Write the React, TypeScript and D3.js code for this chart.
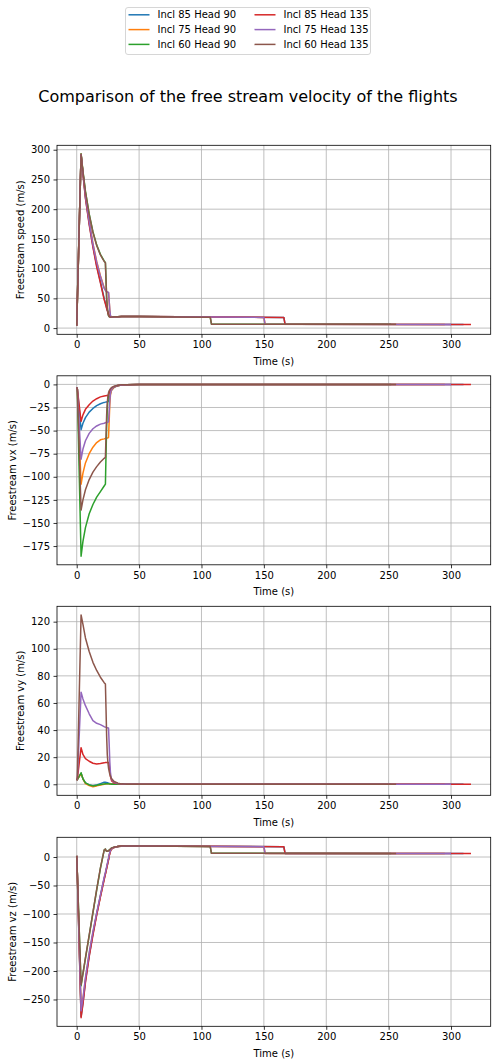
import React, { useEffect, useRef } from 'react';
import * as d3 from 'd3';

const seriesNames = ['Incl 85 Head 90', 'Incl 75 Head 90', 'Incl 60 Head 90', 'Incl 85 Head 135', 'Incl 75 Head 135', 'Incl 60 Head 135'];
const seriesColors = ['#1f77b4', '#ff7f0e', '#2ca02c', '#d62728', '#9467bd', '#8c564b'];

// launch / ballistic phase, shared time knots (s)
const timeEarly = [0, 0.5, 3.5, 5, 7, 10, 13, 16, 19, 22, 23, 23.5, 24, 24.5, 25, 25.5, 26, 26.5, 27, 27.5, 28, 30, 33, 36, 40, 50];
// descent phase: step down + end of each flight (s)
const timeLate85h90 = [165, 166, 167, 310];
const timeLate75h90 = [149, 150, 151, 295];
const timeLate60h90 = [106, 107, 108, 252];
const timeLate85h135 = [165, 166, 167, 316];
const timeLate75h135 = [149, 150, 151, 300];
const timeLate60h135 = [106, 107, 108, 256];

// Freestream speed (m/s)
const speed85h90 = [4, 45, 293, 260, 220, 176, 138, 105, 78, 50, 42, 38, 34, 30, 27, 24, 21, 19.5, 18.8, 18.6, 18.6, 18.9, 19.2, 19.4, 19.4, 19.3, 18, 18, 6.3, 6.2];
const speed75h90 = [4, 45, 293, 262, 224, 180, 142, 112, 88, 68, 64, 62.5, 61.5, 61, 60, 59.5, 45, 30, 21, 19, 18.6, 18.9, 19.2, 19.4, 19.4, 19.3, 18, 18, 6.3, 6.2];
const speed60h90 = [4, 45, 293, 264, 230, 192, 162, 140, 124, 113, 110, 80, 50, 35, 26, 21, 19.5, 19, 18.8, 18.7, 18.8, 19, 19.2, 19.4, 19.4, 19.3, 18.3, 18.3, 6.5, 6.3];
const speed85h135 = [4, 45, 292, 259, 218, 174, 136, 103, 76, 48, 41, 37, 33, 29.5, 26, 23, 20.5, 19, 18.5, 18.5, 18.6, 18.9, 19.2, 19.4, 19.4, 19.3, 18, 18, 6.3, 6.2];
const speed75h135 = [4, 45, 292, 261, 223, 179, 141, 111, 87, 67, 63.5, 62, 61.5, 61, 60.5, 60, 46, 31, 21.5, 19, 18.6, 18.9, 19.2, 19.4, 19.4, 19.3, 18, 18, 6.3, 6.2];
const speed60h135 = [4, 45, 292, 263, 229, 191, 161, 139, 123, 112, 110, 80, 50, 35, 26, 21, 19.5, 19, 18.8, 18.7, 18.8, 19, 19.2, 19.4, 19.4, 19.3, 18.3, 18.3, 6.5, 6.3];

// Freestream vx (m/s)
const vx85h90 = [-3, -5, -49, -42, -36, -30, -26, -23, -21, -19.5, -19.2, -19, -19, -18.8, -18.6, -18, -16, -13, -10, -8, -6, -3, -1.5, -0.8, -0.3, -0.1, 0, 0, 0, 0];
const vx75h90 = [-3, -5, -108, -96, -85, -75, -68, -63, -60, -59, -58.5, -58.3, -58.2, -58, -58, -57.5, -40, -22, -12, -8, -6, -3, -1.5, -0.8, -0.3, -0.1, 0, 0, 0, 0];
const vx60h90 = [-3, -5, -186, -170, -155, -140, -130, -122, -116, -110, -108, -75, -45, -27, -17, -12, -9, -7.5, -6.3, -5.3, -4.5, -2.5, -1.2, -0.6, -0.3, -0.1, 0, 0, 0, 0];
const vx85h135 = [-3, -5, -40, -33, -27, -22, -18, -15.5, -13.5, -12.5, -12.3, -12.2, -12.1, -12, -12, -11, -9.5, -8, -6.5, -5.5, -4.5, -2.5, -1.3, -0.7, -0.3, -0.1, 0, 0, 0, 0];
const vx75h135 = [-3, -5, -81, -70, -61, -53, -48, -45, -43, -42, -41.5, -41.3, -41.2, -41, -41, -40.5, -30, -18, -10, -7, -5, -2.5, -1.3, -0.7, -0.3, -0.1, 0, 0, 0, 0];
const vx60h135 = [-3, -5, -136, -125, -114, -103, -95, -89, -84, -80, -79, -55, -33, -20, -13, -9, -7, -5.8, -4.8, -4, -3.4, -2, -1, -0.5, -0.3, -0.1, 0, 0, 0, 0];

// Freestream vy (m/s)
const vy85h90 = [3, 3.5, 8, 4, 1, -0.5, -1, -0.5, 0.5, 1.5, 1.5, 1.4, 1.3, 1.2, 1, 0.8, 0.6, 0.5, 0.4, 0.3, 0.3, 0.2, 0.1, 0.1, 0, 0, 0, 0, 0, 0];
const vy75h90 = [3, 3.5, 8, 4, 0.5, -1, -1.8, -1.2, -0.5, 0, 0.2, 0.3, 0.3, 0.3, 0.3, 0.3, 0.3, 0.2, 0.2, 0.1, 0.1, 0.1, 0, 0, 0, 0, 0, 0, 0, 0];
const vy60h90 = [3, 3.5, 8.5, 4, 1, -0.5, -1.2, -0.8, -0.2, 0.2, 0.3, 0.3, 0.3, 0.3, 0.3, 0.3, 0.3, 0.2, 0.2, 0.1, 0.1, 0.1, 0, 0, 0, 0, 0, 0, 0, 0];
const vy85h135 = [3, 4, 27, 22, 19, 17, 15.5, 15, 15.3, 15.8, 16, 16, 16, 16, 16, 16, 15, 10, 6, 4, 2.5, 1, 0.5, 0.2, 0.1, 0, 0, 0, 0, 0];
const vy75h135 = [3, 4, 68, 63, 58, 52, 47, 45, 44, 42.5, 42.2, 42, 41.8, 41.7, 41.6, 41.5, 30, 17, 9, 5.5, 3.5, 1.5, 0.6, 0.3, 0.1, 0, 0, 0, 0, 0];
const vy60h135 = [3, 5, 125, 118, 108, 98, 90, 84, 79, 75, 74, 55, 35, 22, 16, 12, 9.5, 7.5, 6, 5, 4, 2, 0.8, 0.3, 0.1, 0, 0, 0, 0, 0];

// Freestream vz (m/s)
const vz85h90 = [2, -30, -280, -256, -218, -173, -135, -100, -68, -38, -29, -24, -19, -14, -9, -4, 2, 7, 10.5, 13, 14.8, 17, 18.5, 19.2, 19.5, 19.4, 18, 18, 6.3, 6.2];
const vz75h90 = [2, -30, -272, -250, -214, -170, -133, -100, -69, -38, -29, -24, -19, -14, -9, -4, 2, 7, 10.5, 12.5, 14, 16.5, 18.3, 19, 19.4, 19.4, 18, 18, 6.3, 6.2];
const vz60h90 = [2, -30, -226, -205, -178, -138, -98, -58, -20, 12, 14, 11, 10, 10, 10.5, 11, 12, 13, 14, 15, 15.8, 17.3, 18.6, 19.2, 19.5, 19.4, 18.3, 18.3, 6.5, 6.3];
const vz85h135 = [2, -30, -282, -258, -220, -175, -137, -102, -70, -40, -30, -25, -20, -15, -10, -5, 1, 6, 10, 12.5, 14.5, 17, 18.5, 19.2, 19.5, 19.4, 18, 18, 6.3, 6.2];
const vz75h135 = [2, -30, -270, -248, -212, -168, -131, -98, -67, -36, -27, -22, -17, -12, -7, -2, 3, 8, 11, 13, 14.5, 16.8, 18.3, 19, 19.4, 19.4, 18, 18, 6.3, 6.2];
const vz60h135 = [2, -30, -224, -204, -177, -137, -97, -57, -19, 12, 14, 11, 10, 10, 10.5, 11, 12, 13, 14, 15, 15.8, 17.3, 18.6, 19.2, 19.5, 19.4, 18.3, 18.3, 6.5, 6.3];

const xTicks = [0, 50, 100, 150, 200, 250, 300];
const speedTicks = [0, 50, 100, 150, 200, 250, 300];
const vxTicks = [0, -25, -50, -75, -100, -125, -150, -175];
const vyTicks = [0, 20, 40, 60, 80, 100, 120];
const vzTicks = [0, -50, -100, -150, -200, -250];

const App = () => {
  const ref = useRef<SVGSVGElement>(null);

  useEffect(() => {
    draw();
  }, []);

  const draw = () => {
    const W = 496, H = 1064;
    const left = 57, right = 490.7, ph = 189;
    const tops = [145.3, 375.8, 606.3, 837.3];
    const font = 'DejaVu Sans, sans-serif';

    const times = [timeLate85h90, timeLate75h90, timeLate60h90, timeLate85h135, timeLate75h135, timeLate60h135]
      .map(late => timeEarly.concat(late));

    const panels = [
      { label: 'Freestream speed (m/s)', ticks: speedTicks, values: [speed85h90, speed75h90, speed60h90, speed85h135, speed75h135, speed60h135] },
      { label: 'Freestream vx (m/s)', ticks: vxTicks, values: [vx85h90, vx75h90, vx60h90, vx85h135, vx75h135, vx60h135] },
      { label: 'Freestream vy (m/s)', ticks: vyTicks, values: [vy85h90, vy75h90, vy60h90, vy85h135, vy75h135, vy60h135] },
      { label: 'Freestream vz (m/s)', ticks: vzTicks, values: [vz85h90, vz75h90, vz60h90, vz85h135, vz75h135, vz60h135] },
    ];

    const svg = d3.select(ref.current);
    svg.selectAll('*').remove();
    svg.attr('width', W).attr('height', H).style('font-family', font);
    svg.append('rect').attr('width', W).attr('height', H).attr('fill', '#fff');

    const fmt = (d: any) => String(d).replace('-', '\u2212');

    const allT = times.flat();
    const [t0, t1] = d3.extent(allT) as [number, number];
    const padT = (t1 - t0) * 0.05;
    const x = d3.scaleLinear().domain([t0 - padT, t1 + padT]).range([left, right]);

    panels.forEach((p, pi) => {
      const top = tops[pi], bottom = top + ph;
      const [v0, v1] = d3.extent(p.values.flat()) as [number, number];
      const padV = (v1 - v0) * 0.05;
      const y = d3.scaleLinear().domain([v0 - padV, v1 + padV]).range([bottom, top]);

      const g = svg.append('g');

      // grid
      g.selectAll('.gx').data(xTicks).enter().append('line')
        .attr('x1', d => x(d)).attr('x2', d => x(d)).attr('y1', top).attr('y2', bottom)
        .attr('stroke', '#b0b0b0').attr('stroke-width', 0.8);
      g.selectAll('.gy').data(p.ticks).enter().append('line')
        .attr('x1', left).attr('x2', right).attr('y1', d => y(d)).attr('y2', d => y(d))
        .attr('stroke', '#b0b0b0').attr('stroke-width', 0.8);

      // lines
      p.values.forEach((vals, si) => {
        const pts = times[si].map((t, k) => [t, vals[k]] as [number, number]);
        const line = d3.line<[number, number]>().x(d => x(d[0])).y(d => y(d[1]));
        g.append('path').attr('d', line(pts))
          .attr('fill', 'none').attr('stroke', seriesColors[si])
          .attr('stroke-width', 1.5).attr('stroke-linejoin', 'round');
      });

      // spines
      g.append('rect').attr('x', left).attr('y', top).attr('width', right - left).attr('height', ph)
        .attr('fill', 'none').attr('stroke', '#000').attr('stroke-width', 0.8);

      const ax = g.append('g').attr('transform', `translate(0,${bottom})`)
        .call(d3.axisBottom(x).tickValues(xTicks).tickFormat(fmt).tickSize(3.5).tickPadding(3.5));
      const ay = g.append('g').attr('transform', `translate(${left},0)`)
        .call(d3.axisLeft(y).tickValues(p.ticks).tickFormat(fmt).tickSize(3.5).tickPadding(3.5));
      [ax, ay].forEach(a => {
        a.select('.domain').remove();
        a.selectAll('line').attr('stroke', '#000').attr('stroke-width', 0.8);
        a.selectAll('text').attr('font-size', 10).attr('font-family', font).attr('fill', '#000');
      });

      g.append('text').attr('x', (left + right) / 2).attr('y', bottom + 30.5)
        .attr('text-anchor', 'middle').attr('font-size', 10).text('Time (s)');

      let maxW = 0;
      ay.selectAll<SVGTextElement, unknown>('text').each(function () {
        maxW = Math.max(maxW, this.getComputedTextLength());
      });
      const lx = left - 7 - maxW - 4 - 2.5;
      g.append('text').attr('transform', `translate(${lx},${(top + bottom) / 2}) rotate(-90)`)
        .attr('text-anchor', 'middle').attr('font-size', 10).text(p.label);
    });

    // title
    svg.append('text').attr('x', W / 2).attr('y', 101.5).attr('text-anchor', 'middle')
      .attr('font-size', 16).text('Comparison of the free stream velocity of the flights');

    // legend
    const lg = svg.append('g');
    lg.append('rect').attr('x', 125.5).attr('y', 7.5).attr('width', 245).attr('height', 47).attr('rx', 2.5)
      .attr('fill', '#fff').attr('fill-opacity', 0.8).attr('stroke', '#cccccc').attr('stroke-width', 0.8);
    const colX = [128.5, 254.5];
    const rowY = [14.8, 29.6, 44.4];
    seriesNames.forEach((name, i) => {
      const cx = colX[Math.floor(i / 3)], cy = rowY[i % 3];
      lg.append('line').attr('x1', cx).attr('x2', cx + 21).attr('y1', cy).attr('y2', cy)
        .attr('stroke', seriesColors[i]).attr('stroke-width', 1.5);
      lg.append('text').attr('x', cx + 29).attr('y', cy).attr('dy', '0.35em')
        .attr('font-size', 10).text(name);
    });
  };

  return <svg ref={ref} style={{ position: 'absolute', left: 0, top: 0 }}></svg>;
};

export default App;
